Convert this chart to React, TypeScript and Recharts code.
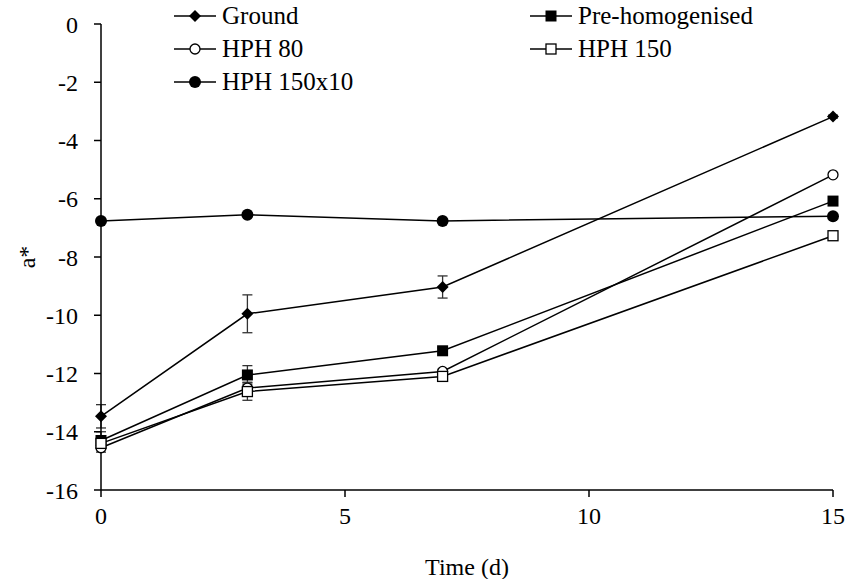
import { LineChart, Line, XAxis, YAxis, ErrorBar, Legend, Label } from 'recharts';

const days = [0, 3, 7, 15];

const ground = [-13.47, -9.95, -9.03, -3.18];
const groundErr = [0.4, 0.65, 0.38, 0.05];
const preHom = [-14.3, -12.05, -11.22, -6.08];
const preHomErr = [0.3, 0.32, 0.1, 0.05];
const hph80 = [-14.55, -12.5, -11.93, -5.18];
const hph80Err = [0.15, 0.2, 0.08, 0.05];
const hph150 = [-14.4, -12.62, -12.1, -7.27];
const hph150Err = [0.2, 0.3, 0.08, 0.05];
const hph150x10 = [-6.76, -6.55, -6.76, -6.6];

const xTicks = [0, 5, 10, 15];
const yTicks = [0, -2, -4, -6, -8, -10, -12, -14, -16];

const data = days.map((d, i) => ({
  day: d,
  ground: ground[i],
  groundErr: groundErr[i],
  preHom: preHom[i],
  preHomErr: preHomErr[i],
  hph80: hph80[i],
  hph80Err: hph80Err[i],
  hph150: hph150[i],
  hph150Err: hph150Err[i],
  hph150x10: hph150x10[i],
}));

const FONT = '"Liberation Serif", "Times New Roman", Times, serif';

type Shape = 'diamond' | 'square' | 'circle' | 'openSquare' | 'dot';

function marker(shape: Shape, cx: number, cy: number, key?: any) {
  switch (shape) {
    case 'diamond':
      return <path key={key} d={`M${cx},${cy - 6} L${cx + 6},${cy} L${cx},${cy + 6} L${cx - 6},${cy} Z`} fill="#000" />;
    case 'square':
      return <rect key={key} x={cx - 5.5} y={cy - 5.5} width={11} height={11} fill="#000" />;
    case 'circle':
      return <circle key={key} cx={cx} cy={cy} r={5} fill="#fff" stroke="#000" strokeWidth={1.3} />;
    case 'openSquare':
      return <rect key={key} x={cx - 5} y={cy - 5} width={10} height={10} fill="#fff" stroke="#000" strokeWidth={1.3} />;
    default:
      return <circle key={key} cx={cx} cy={cy} r={6} fill="#000" />;
  }
}

const series: { key: string; name: string; shape: Shape; err?: string }[] = [
  { key: 'ground', name: 'Ground', shape: 'diamond', err: 'groundErr' },
  { key: 'preHom', name: 'Pre-homogenised', shape: 'square', err: 'preHomErr' },
  { key: 'hph80', name: 'HPH 80', shape: 'circle', err: 'hph80Err' },
  { key: 'hph150', name: 'HPH 150', shape: 'openSquare', err: 'hph150Err' },
  { key: 'hph150x10', name: 'HPH 150x10', shape: 'dot' },
];

const legendPos = [
  { left: 174, top: 0 },
  { left: 530, top: 0 },
  { left: 174, top: 33 },
  { left: 530, top: 33 },
  { left: 174, top: 66 },
];

// height 0 so the legend doesn't push the plot down
function LegendBox() {
  return (
    <div style={{ position: 'relative', width: 850, height: 0, fontFamily: FONT, fontSize: 25 }}>
      {series.map((s, i) => (
        <div key={s.key} style={{ position: 'absolute', left: legendPos[i].left, top: legendPos[i].top, display: 'flex', alignItems: 'center', height: 32, whiteSpace: 'nowrap' }}>
          <svg width={44} height={16} style={{ overflow: 'visible' }}>
            <line x1={0} y1={8} x2={42} y2={8} stroke="#000" strokeWidth={1.5} />
            {marker(s.shape, 21, 8)}
          </svg>
          <span style={{ marginLeft: 4, lineHeight: '32px', color: '#000', fontFamily: FONT }}>{s.name}</span>
        </div>
      ))}
    </div>
  );
}

const tickStyle = { fill: '#000', fontSize: 24, fontFamily: FONT };

export default function App() {
  return (
    <div style={{ width: 850, height: 579, background: '#fff', fontFamily: FONT }}>
      <style>{'body{margin:0}'}</style>
      <LineChart width={850} height={579} data={data} margin={{ top: 24, right: 17, left: 0, bottom: 0 }} style={{ fontFamily: FONT }}>
        <XAxis
          dataKey="day"
          type="number"
          domain={[0, 15]}
          ticks={xTicks}
          height={89}
          stroke="#000"
          strokeWidth={1.5}
          tickSize={7}
          tickMargin={10}
          tick={tickStyle}
        >
          <Label value="Time  (d)" position="insideBottom" offset={4} style={tickStyle} />
        </XAxis>
        <YAxis
          type="number"
          domain={[-16, 0]}
          ticks={yTicks}
          width={101}
          stroke="#000"
          strokeWidth={1.5}
          tickSize={7}
          tickMargin={16}
          interval={0}
          tick={tickStyle}
        >
          <Label value="a*" angle={-90} position="insideLeft" offset={26} style={{ ...tickStyle, textAnchor: 'middle' }} />
        </YAxis>
        <Legend verticalAlign="top" align="left" content={() => <LegendBox />} wrapperStyle={{ top: 0, left: 0, width: 850, height: 0 }} />
        {series.map((s) => (
          <Line
            key={s.key}
            dataKey={s.key}
            name={s.name}
            type="linear"
            stroke="#000"
            strokeWidth={1.5}
            isAnimationActive={false}
            dot={(p: any) => marker(s.shape, p.cx, p.cy, `${s.key}-${p.index}`)}
            activeDot={false}
          >
            {s.err && <ErrorBar dataKey={s.err} direction="y" width={5} stroke="#333" strokeWidth={1.3} />}
          </Line>
        ))}
      </LineChart>
    </div>
  );
}
